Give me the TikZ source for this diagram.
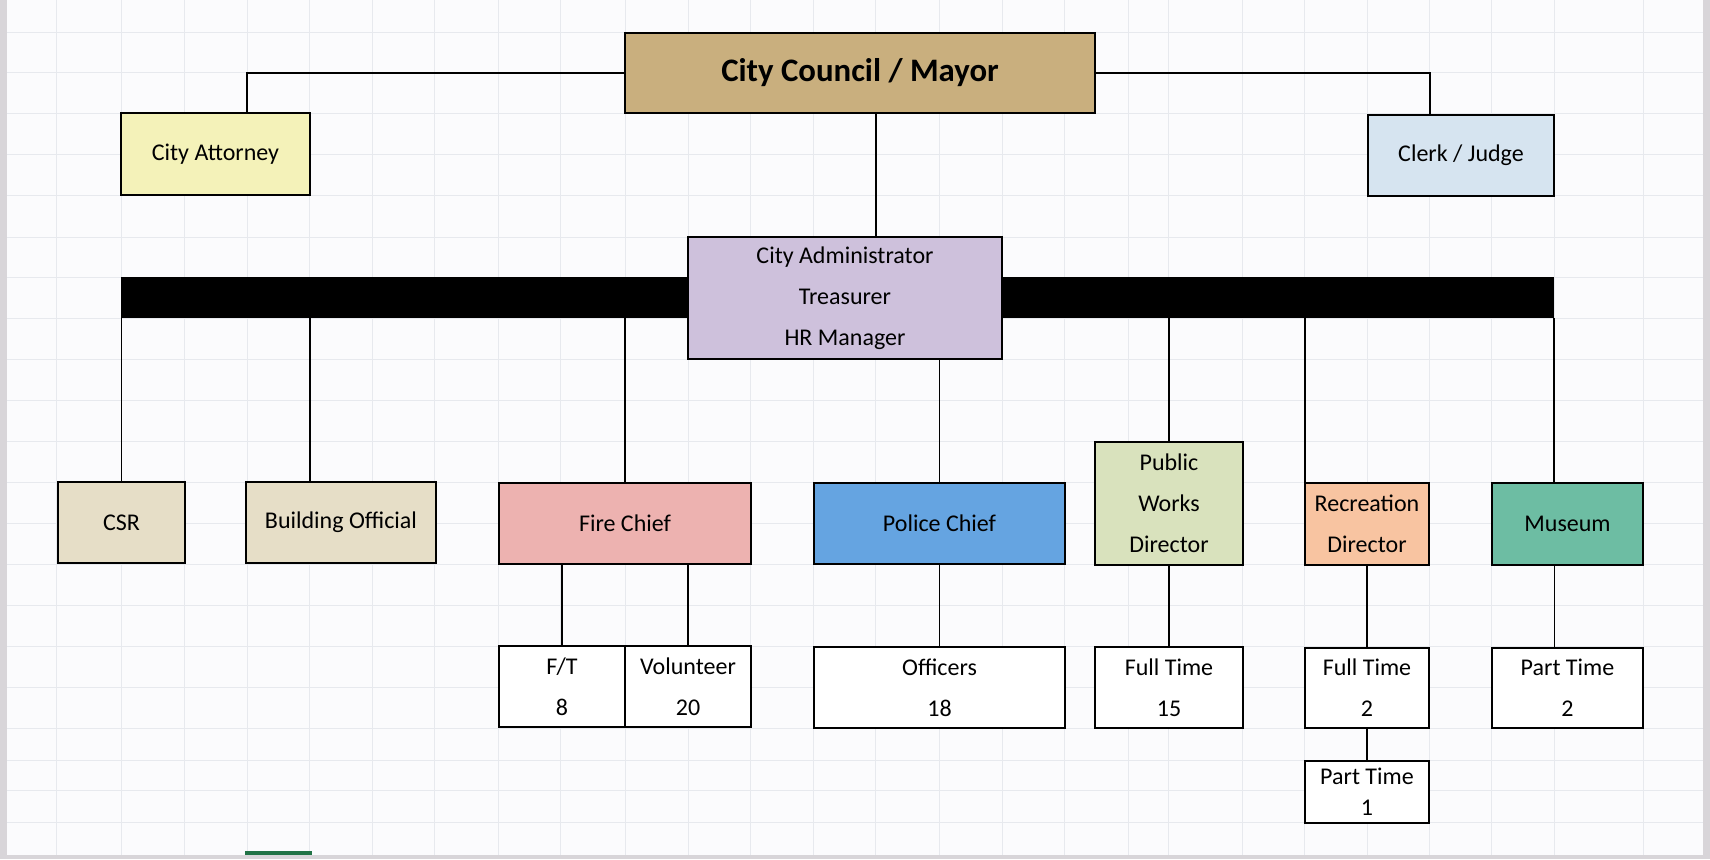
\documentclass[tikz,border=0pt]{standalone}
\usepackage{fontspec}
\setmainfont{Carlito}
\definecolor{paper}{HTML}{FBFBFD}
\definecolor{gridgrey}{HTML}{E7E9EE}
\definecolor{edgegrey}{HTML}{D8D5D9}
\definecolor{council}{HTML}{C9AF7E}
\definecolor{attorney}{HTML}{F4F2B9}
\definecolor{clerk}{HTML}{D6E4F0}
\definecolor{admin}{HTML}{CEC1DC}
\definecolor{staff}{HTML}{E6DEC7}
\definecolor{fire}{HTML}{EDB2B0}
\definecolor{police}{HTML}{65A4E1}
\definecolor{works}{HTML}{D9E2BD}
\definecolor{recreation}{HTML}{F8C4A1}
\definecolor{museum}{HTML}{6DBDA3}
\definecolor{tabgreen}{HTML}{217346}
\tikzset{
	unit/.style={draw=black, line width=1.1pt, inner sep=2pt, align=center,
		font=\fontsize{12}{20.5}\selectfont},
	wire/.style={line width=0.9pt},
	gridline/.style={draw=gridgrey, line width=0.5pt}
}
\begin{document}
\begin{tikzpicture}[x=0.5pt,y=-0.5pt]
\useasboundingbox (0,0) rectangle (1710,859);
\fill[paper] (0,0) rectangle (1710,859);
% sheet grid
\foreach \x in {56,121,184,247,309,372,434,498,560,625,688,750,813,875,939,1002,1064,1128,1168,1242,1304,1367,1429,1491,1554,1643}
	\draw[gridline] (\x,0) -- (\x,859);
\foreach \y in {32,72,113,154,195,237,277,318,359,400,441,482,523,564,605,646,687,728,760,790,822}
	\draw[gridline] (0,\y) -- (1710,\y);
\fill[edgegrey] (0,0) rectangle (7,859);
\fill[edgegrey] (1703,0) rectangle (1710,859);
\fill[edgegrey] (0,855) rectangle (1710,859);
\draw[tabgreen, line width=1.6pt] (245,853) -- (312,853);

% top level
\node[unit, fill=council, minimum width=235pt, minimum height=40pt,
	font=\bfseries\fontsize{16.4}{20}\selectfont] (council) at (860,73) {City Council / Mayor};
\node[unit, fill=attorney, minimum width=94.5pt, minimum height=41pt] (attorney) at (215.5,154) {City Attorney};
\node[unit, fill=clerk, minimum width=93pt, minimum height=40.5pt] (clerk) at (1461,155.5) {Clerk / Judge};

% black bar behind the administrator
\node[fill=black, inner sep=0pt, minimum width=716.5pt, minimum height=20.5pt] (bar) at (837.5,297.5) {};
\node[unit, fill=admin, minimum width=157pt, minimum height=61pt] (admin) at (845,298)
	{City Administrator\\Treasurer\\HR Manager};

% departments
\node[unit, fill=staff, minimum width=63.5pt, minimum height=40.5pt] (csr) at (121.5,522.5) {CSR};
\node[unit, fill=staff, minimum width=95pt, minimum height=40.5pt] (building) at (341,522.5) {Building Official};
\node[unit, fill=fire, minimum width=126pt, minimum height=40.5pt] (fire) at (625,523.5) {Fire Chief};
\node[unit, fill=police, minimum width=125.5pt, minimum height=40.5pt] (police) at (939.5,523.5) {Police Chief};
\node[unit, fill=works, minimum width=74pt, minimum height=61.5pt] (works) at (1169,503.5) {Public\\Works\\Director};
\node[unit, fill=recreation, minimum width=62pt, minimum height=41pt] (rec) at (1367,524) {Recreation\\Director};
\node[unit, fill=museum, minimum width=75.5pt, minimum height=41pt] (museum) at (1567.5,524) {Museum};

% head counts
\node[unit, fill=white, minimum width=63pt, minimum height=40.5pt] (fireft) at (562,686.5) {F/T\\8};
\node[unit, fill=white, minimum width=63pt, minimum height=40.5pt] (firevol) at (688,686.5) {Volunteer\\20};
\node[unit, fill=white, minimum width=125.5pt, minimum height=40.5pt] (officers) at (939.5,687.5) {Officers\\18};
\node[unit, fill=white, minimum width=74pt, minimum height=40.5pt] (worksft) at (1169,687.5) {Full Time\\15};
\node[unit, fill=white, minimum width=62pt, minimum height=40pt] (recft) at (1367,688) {Full Time\\2};
\node[unit, fill=white, minimum width=62pt, minimum height=31pt, font=\fontsize{12}{15.5}\selectfont] (recpt) at (1367,792) {Part Time\\1};
\node[unit, fill=white, minimum width=75.5pt, minimum height=40pt] (museumpt) at (1567.5,688) {Part Time\\2};

% connectors
\coordinate (attx) at (247,0);
\coordinate (clerkx) at (1430,0);
\coordinate (adminx) at (876,0);
\draw[wire] (council.west) -| (attx |- attorney.north);
\draw[wire] (council.east) -| (clerkx |- clerk.north);
\draw[wire] (adminx |- council.south) -- (adminx |- admin.north);
\foreach \x/\n in {121.5/csr, 310/building, 625/fire, 1169/works, 1305/rec, 1554/museum}
	\draw[wire] (bar.south -| \x,0) -- (\n.north -| \x,0);
\draw[wire] (admin.south -| police.north) -- (police.north);
\foreach \n in {fireft, firevol}
	\draw[wire] (fire.south -| \n.north) -- (\n.north);
\draw[wire] (police.south) -- (officers.north);
\draw[wire] (works.south) -- (worksft.north);
\draw[wire] (rec.south) -- (recft.north);
\draw[wire] (recft.south) -- (recpt.north);
\draw[wire] (museum.south -| bar.east) -- (museumpt.north -| bar.east);
\end{tikzpicture}
\end{document}
